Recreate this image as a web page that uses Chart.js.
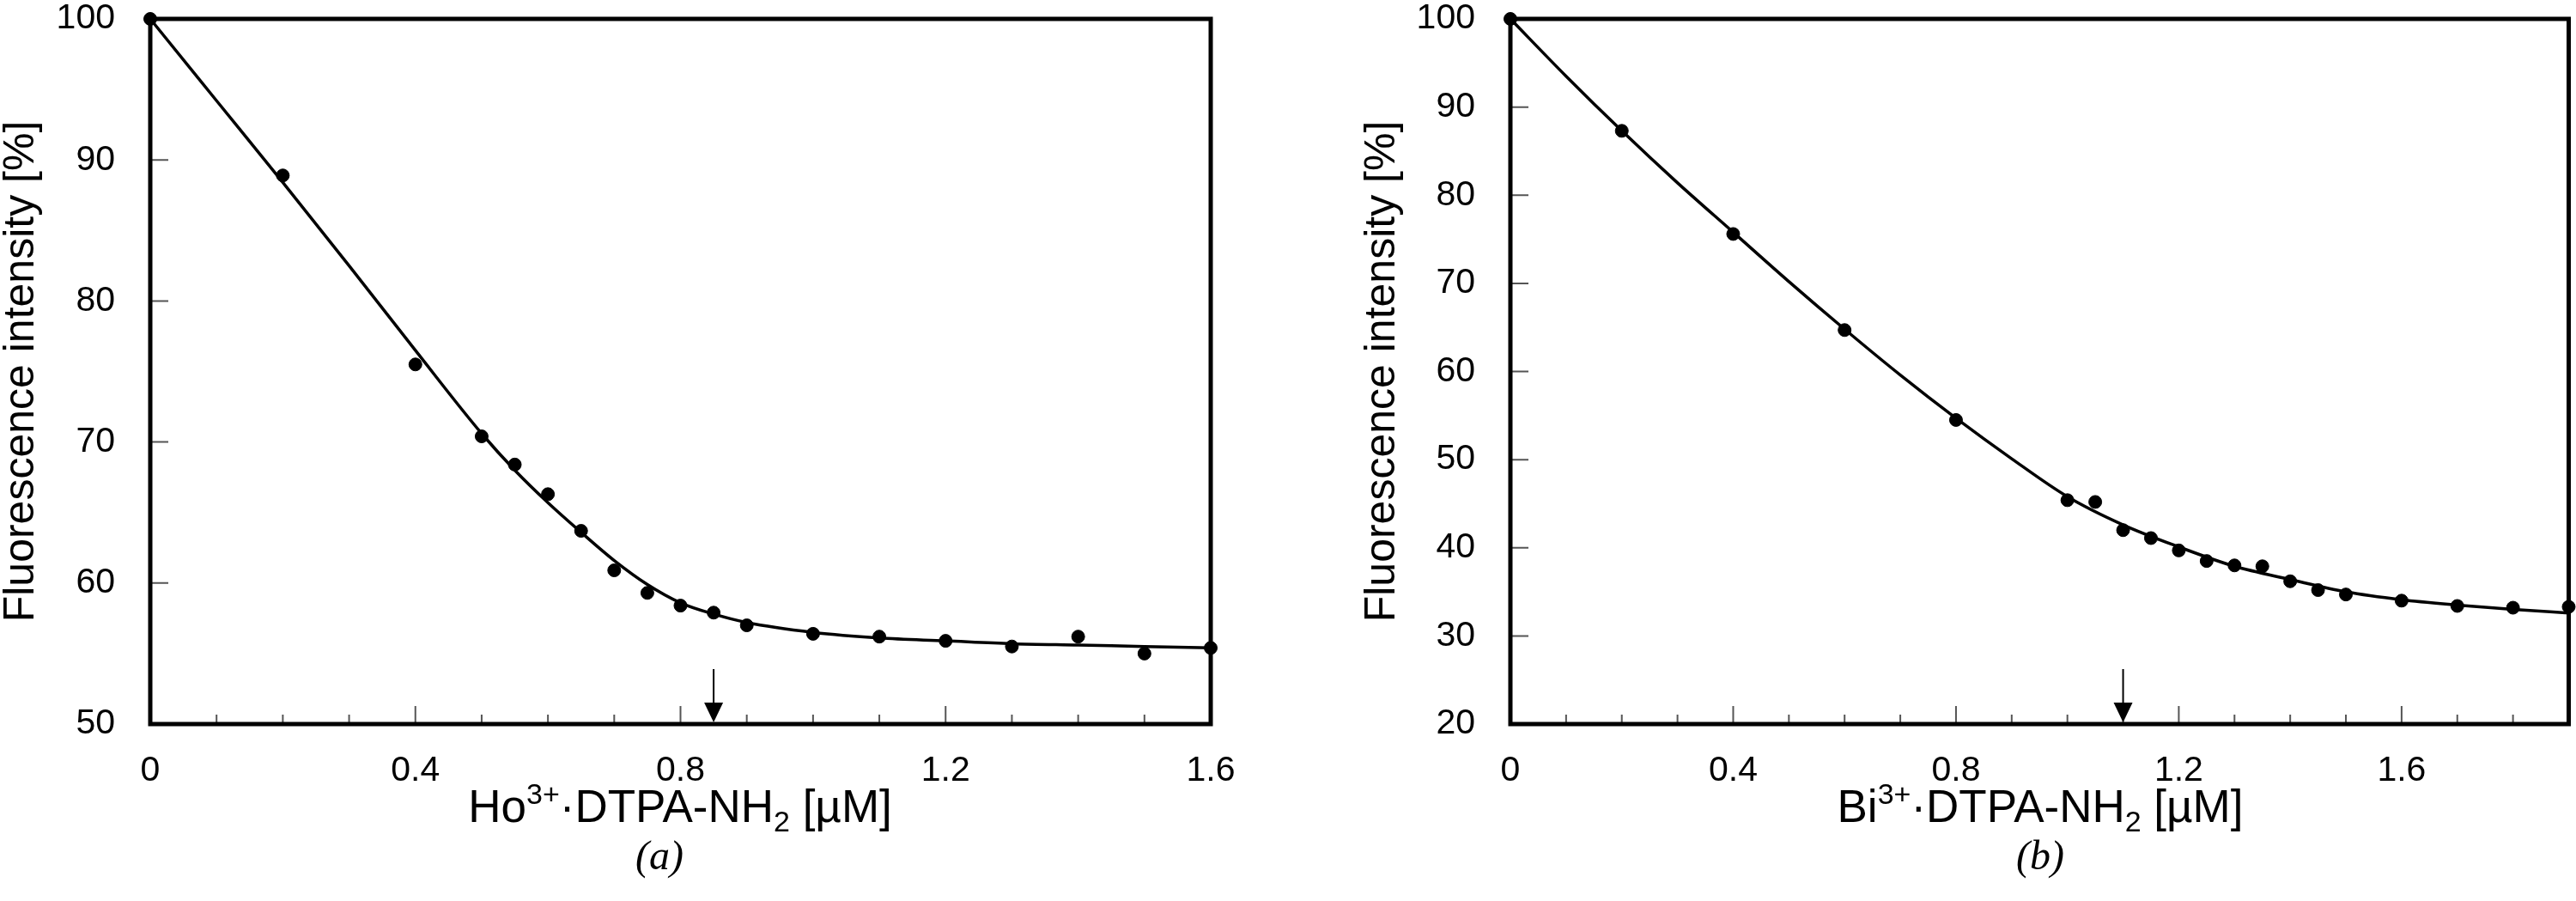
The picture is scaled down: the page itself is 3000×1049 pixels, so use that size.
<!DOCTYPE html>
<html>
<head>
<meta charset="utf-8">
<script src="https://cdn.jsdelivr.net/npm/chart.js@4.4.0/dist/chart.umd.min.js"></script>
<style>
  body { margin: 0; width: 3000px; height: 1049px; background: #fff; position: relative; overflow: hidden; }
  canvas { position: absolute; top: 0; }
  #chartA { left: 0; }
  #chartB { left: 1500px; }
  .xtitle { position: absolute; width: 900px; text-align: center; font-family: 'Liberation Sans', Arial, sans-serif; font-size: 53px; line-height: 53px; color: #000; }
  .xtitle sup, .xtitle sub { font-size: 34px; line-height: 0; position: relative; vertical-align: baseline; }
  .xtitle sup { top: -21px; }
  .xtitle sub { top: 11px; }
  .caption { position: absolute; width: 200px; text-align: center; font-family: 'Liberation Serif', 'Times New Roman', serif; font-style: italic; font-size: 48px; line-height: 48px; color: #000; }
</style>
</head>
<body>
<canvas id="chartA" width="1500" height="1049"></canvas>
<canvas id="chartB" width="1500" height="1049"></canvas>
<div class="xtitle" style="left:342px; top:912px;">Ho<sup>3+</sup>·DTPA-NH<sub>2</sub> [µM]</div>
<div class="xtitle" style="left:1926px; top:912px;">Bi<sup>3+</sup>·DTPA-NH<sub>2</sub> [µM]</div>
<div class="caption" style="left:668px; top:972px;">(a)</div>
<div class="caption" style="left:2276px; top:972px;">(b)</div>
<script>
// (a) Ho3+·DTPA-NH2 titration
const hoX = [0, 0.2, 0.4, 0.5, 0.55, 0.6, 0.65, 0.7, 0.75, 0.8, 0.85, 0.9, 1.0, 1.1, 1.2, 1.3, 1.4, 1.5, 1.6];
const hoY = [100, 88.9, 75.5, 70.4, 68.4, 66.3, 63.7, 60.9, 59.3, 58.4, 57.9, 57.0, 56.4, 56.2, 55.9, 55.5, 56.2, 55.0, 55.4];
const hoFitX = [0, 0.1, 0.2, 0.3, 0.4, 0.5, 0.55, 0.6, 0.65, 0.7, 0.75, 0.8, 0.85, 0.9, 1.0, 1.1, 1.2, 1.3, 1.4, 1.5, 1.6];
const hoFitY = [100, 94.2, 88.4, 82.5, 76.5, 70.6, 68.0, 65.7, 63.6, 61.6, 59.9, 58.6, 57.8, 57.2, 56.5, 56.1, 55.9, 55.7, 55.6, 55.5, 55.4];
const hoArrow = 0.85;

// (b) Bi3+·DTPA-NH2 titration
const biX = [0, 0.2, 0.4, 0.6, 0.8, 1.0, 1.05, 1.1, 1.15, 1.2, 1.25, 1.3, 1.35, 1.4, 1.45, 1.5, 1.6, 1.7, 1.8, 1.9];
const biY = [100, 87.3, 75.6, 64.7, 54.5, 45.4, 45.2, 42.0, 41.1, 39.7, 38.5, 38.0, 37.9, 36.2, 35.2, 34.7, 34.0, 33.4, 33.2, 33.3];
const biFitX = [0, 0.1, 0.2, 0.3, 0.4, 0.5, 0.6, 0.7, 0.8, 0.9, 1.0, 1.1, 1.2, 1.3, 1.4, 1.5, 1.6, 1.7, 1.8, 1.9];
const biFitY = [100, 93.5, 87.3, 81.4, 75.8, 70.2, 64.8, 59.6, 54.7, 50.1, 45.8, 42.6, 40.1, 37.9, 36.4, 35.0, 34.1, 33.5, 33.0, 32.6];
const biArrow = 1.1;

const yTitle = 'Fluorescence intensity [%]';

Chart.defaults.font.family = "'Liberation Sans', Arial, sans-serif";
Chart.defaults.color = '#000';

function isMajor(v) {
  return Math.abs(v / 0.4 - Math.round(v / 0.4)) < 1e-6;
}

function toPoints(xs, ys) {
  return xs.map((x, i) => ({x: x, y: ys[i]}));
}

// drop the room Chart.js keeps for overhanging end labels
function noOverhang(s) {
  s.paddingTop = 0;
  s.paddingBottom = 0;
  s.paddingLeft = 0;
  s.paddingRight = 0;
}

// box, inward ticks and the arrow mark
const framePlugin = {
  id: 'frame',
  beforeDatasetsDraw(chart, args, opts) {
    const ctx = chart.ctx;
    const a = chart.chartArea;
    const x = chart.scales.x;
    const y = chart.scales.y;
    ctx.save();
    ctx.strokeStyle = '#555';
    ctx.lineWidth = 2;
    ctx.beginPath();
    x.ticks.forEach(t => {
      const px = x.getPixelForValue(t.value);
      const len = isMajor(t.value) ? 21 : 11;
      ctx.moveTo(px, a.bottom);
      ctx.lineTo(px, a.bottom - len);
    });
    y.ticks.forEach(t => {
      const py = y.getPixelForValue(t.value);
      ctx.moveTo(a.left, py);
      ctx.lineTo(a.left + 21, py);
    });
    ctx.stroke();

    ctx.strokeStyle = '#000';
    ctx.lineWidth = 5;
    ctx.strokeRect(a.left, a.top, a.right - a.left, a.bottom - a.top);

    const ax = x.getPixelForValue(opts.arrowAt);
    ctx.lineWidth = 2;
    ctx.beginPath();
    ctx.moveTo(ax, a.bottom - 64);
    ctx.lineTo(ax, a.bottom - 20);
    ctx.stroke();
    ctx.fillStyle = '#000';
    ctx.beginPath();
    ctx.moveTo(ax - 11, a.bottom - 25);
    ctx.lineTo(ax + 11, a.bottom - 25);
    ctx.lineTo(ax, a.bottom - 2);
    ctx.closePath();
    ctx.fill();
    ctx.restore();
  }
};

function makeChart(canvas, pts, fit, xMax, yMin, yWidth, rightPad, titlePad, arrowAt) {
  return new Chart(canvas, {
    type: 'scatter',
    data: {
      datasets: [
        {
          type: 'line',
          data: fit,
          borderColor: '#000',
          borderWidth: 3.5,
          pointRadius: 0,
          cubicInterpolationMode: 'monotone',
          fill: false,
          clip: false
        },
        {
          data: pts,
          backgroundColor: '#000',
          borderColor: '#000',
          pointRadius: 7.5,
          pointHoverRadius: 7.5,
          clip: false
        }
      ]
    },
    options: {
      responsive: false,
      animation: false,
      events: [],
      layout: {padding: {left: 0, top: 22, right: rightPad, bottom: 0}},
      plugins: {
        legend: {display: false},
        tooltip: {enabled: false},
        frame: {arrowAt: arrowAt}
      },
      scales: {
        x: {
          type: 'linear',
          position: 'bottom',
          min: 0,
          max: xMax,
          grid: {display: false},
          border: {display: false},
          afterFit: s => { s.height = 206; noOverhang(s); },
          ticks: {
            stepSize: 0.1,
            autoSkip: false,
            maxRotation: 0,
            padding: 22,
            font: {size: 41},
            callback: v => isMajor(v) ? String(Number(v.toFixed(1))) : ''
          }
        },
        y: {
          type: 'linear',
          min: yMin,
          max: 100,
          grid: {display: false},
          border: {display: false},
          afterFit: s => { s.width = yWidth; noOverhang(s); },
          ticks: {stepSize: 10, padding: 33, font: {size: 41}},
          title: {
            display: true,
            text: yTitle,
            font: {size: 50, lineHeight: 1},
            padding: {top: titlePad, bottom: 0}
          }
        }
      }
    },
    plugins: [framePlugin]
  });
}

makeChart(document.getElementById('chartA'), toPoints(hoX, hoY), toPoints(hoFitX, hoFitY),
  1.6, 50, 175, 90, 0, hoArrow);
makeChart(document.getElementById('chartB'), toPoints(biX, biY), toPoints(biFitX, biFitY),
  1.9, 20, 259, 6, 85, biArrow);
</script>
</body>
</html>
